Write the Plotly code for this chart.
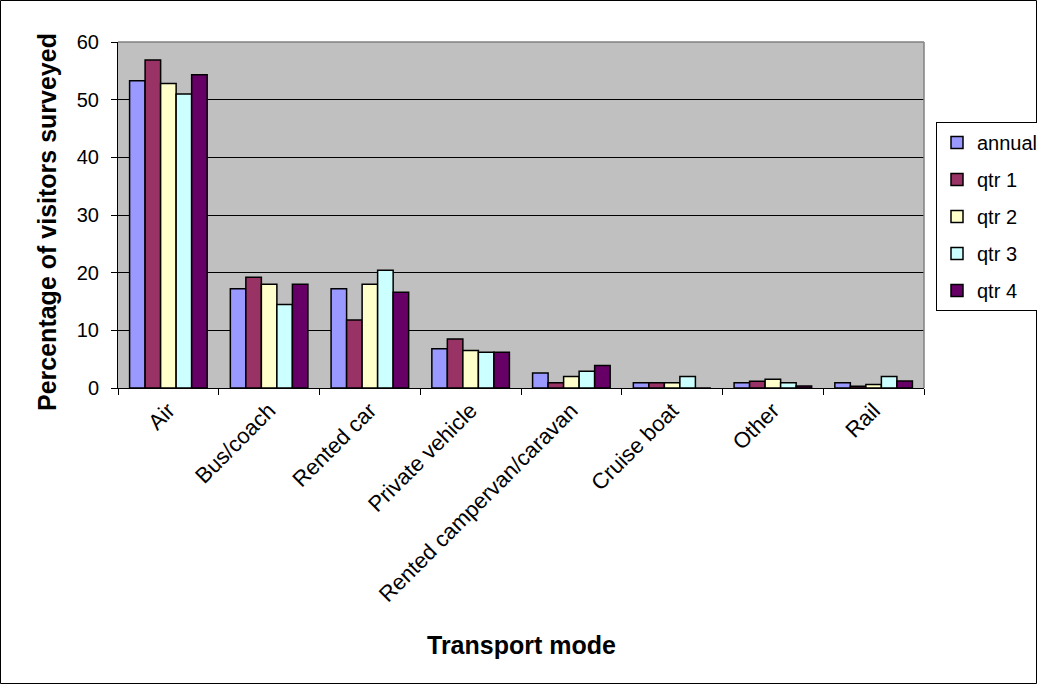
import plotly.graph_objects as go

categories = ["Air", "Bus/coach", "Rented car", "Private vehicle",
              "Rented campervan/caravan", "Cruise boat", "Other", "Rail"]
annual = [53.3, 17.2, 17.2, 6.8, 2.6, 0.9, 0.9, 0.9]
qtr1 = [56.9, 19.2, 11.8, 8.5, 0.9, 0.9, 1.15, 0.3]
qtr2 = [52.8, 18.0, 18.0, 6.5, 2.0, 0.9, 1.5, 0.6]
qtr3 = [51.0, 14.5, 20.4, 6.2, 2.9, 2.0, 0.9, 2.0]
qtr4 = [54.3, 18.0, 16.6, 6.2, 3.9, 0.0, 0.35, 1.2]

series = [("annual", annual, "#9999FF"), ("qtr 1", qtr1, "#993366"),
          ("qtr 2", qtr2, "#FFFFCC"), ("qtr 3", qtr3, "#CCFFFF"),
          ("qtr 4", qtr4, "#660066")]

fig = go.Figure()
for name, vals, col in series:
    fig.add_trace(go.Bar(x=categories, y=vals, name=name, legendgroup=name,
                         marker=dict(color=col, line=dict(color="black", width=1.5))))

W, H = 1037, 684
L, R, T, B = 118, 113, 42, 296
pw, ph = W - L - R, H - T - B

def px_x(px):
    return (px - L) / pw

def px_y(py):
    return (H - B - py) / ph

fig.update_layout(
    width=W, height=H, autosize=False,
    margin=dict(l=L, r=R, t=T, b=B, autoexpand=False),
    paper_bgcolor="white", plot_bgcolor="#C0C0C0",
    barmode="group", bargap=0.23, bargroupgap=0,
    font=dict(family="Arial, Liberation Sans, sans-serif", size=20, color="black"),
    showlegend=True,
    legend=dict(xref="container", yref="container", x=936 / W, y=1 - 122 / H,
                xanchor="left", yanchor="top",
                bordercolor="black", borderwidth=1, bgcolor="white",
                font=dict(size=20), traceorder="grouped", tracegroupgap=8,
                itemwidth=30),
    xaxis=dict(showgrid=False, showline=True, linecolor="black", linewidth=1,
               ticks="outside", tickson="boundaries", ticklen=6, tickcolor="black",
               tickangle=-45, tickfont=dict(size=22)),
    yaxis=dict(range=[0, 60], dtick=10, showgrid=True, gridcolor="black", gridwidth=1,
               showline=True, linecolor="black", linewidth=1, ticks="outside",
               ticklen=6, tickcolor="black", tickfont=dict(size=20), zeroline=False,
               ticklabelstandoff=8),
    annotations=[
        dict(text="<b>Transport mode</b>", xref="paper", yref="paper",
             x=px_x(521), y=px_y(645), xanchor="center", yanchor="middle",
             showarrow=False, font=dict(size=25)),
        dict(text="<b>Percentage of visitors surveyed</b>", xref="paper", yref="paper",
             x=px_x(47), y=px_y(222), xanchor="center", yanchor="middle",
             textangle=-90, showarrow=False, font=dict(size=25)),
    ],
    shapes=[
        dict(type="line", xref="paper", yref="paper", x0=0, x1=1, y0=1, y1=1,
             line=dict(color="#808080", width=1.5)),
        dict(type="line", xref="paper", yref="paper", x0=1, x1=1, y0=0, y1=1,
             line=dict(color="#808080", width=1.5)),
        dict(type="rect", xref="paper", yref="paper",
             x0=px_x(0.5), x1=px_x(W - 0.5), y0=px_y(H - 0.5), y1=px_y(0.5),
             line=dict(color="black", width=1)),
    ],
)

fig.write_html("out.html", config={"responsive": False})
